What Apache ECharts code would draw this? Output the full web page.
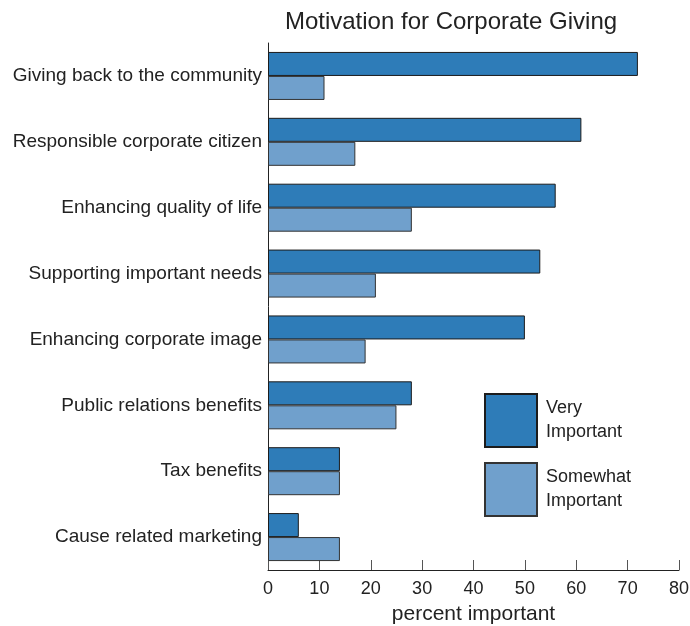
<!DOCTYPE html>
<html>
<head>
<meta charset="utf-8">
<script src="https://cdn.jsdelivr.net/npm/echarts@6/dist/echarts.min.js"></script>
<style>
  html, body { margin: 0; padding: 0; background: #fff; }
  #chart { width: 690px; height: 626px; }
</style>
</head>
<body>
<div id="chart"></div>
<script>
// Survey reasons, top to bottom
const categories = [
  'Giving back to the community',
  'Responsible corporate citizen',
  'Enhancing quality of life',
  'Supporting important needs',
  'Enhancing corporate image',
  'Public relations benefits',
  'Tax benefits',
  'Cause related marketing'
];
const veryImportant = [72, 61, 56, 53, 50, 28, 14, 6];
const somewhatImportant = [11, 17, 28, 21, 19, 25, 14, 14];
const xTicks = [0, 10, 20, 30, 40, 50, 60, 70, 80];

const textColor = '#222';
const font = 'Liberation Sans, Arial, sans-serif';

const chart = echarts.init(document.getElementById('chart'));
chart.setOption({
  animation: false,
  title: {
    text: 'Motivation for Corporate Giving',
    left: 451,
    textAlign: 'center',
    top: 10,
    padding: 0,
    textStyle: { fontFamily: font, fontSize: 24, fontWeight: 'normal', color: textColor }
  },
  legend: {
    orient: 'vertical',
    left: 484,
    top: 393,
    padding: 0,
    itemWidth: 52,
    itemHeight: 53,
    itemGap: 14,
    icon: 'rect',
    textStyle: { fontFamily: font, fontSize: 18, color: textColor, lineHeight: 24, padding: [2, 0, 0, 4] },
    formatter: function (name) { return name.replace(' ', '\n'); },
    data: ['Very Important', 'Somewhat Important']
  },
  grid: { left: 268, right: 11, top: 43, bottom: 56, containLabel: false, outerBoundsMode: 'none' },
  xAxis: {
    type: 'value',
    min: 0,
    max: 80,
    interval: 10,
    name: 'percent important',
    nameLocation: 'middle',
    nameGap: 34,
    nameTextStyle: { fontFamily: font, fontSize: 21, color: textColor },
    axisLine: { show: true, lineStyle: { color: '#222', width: 1 } },
    axisTick: { show: true, inside: true, length: 10, lineStyle: { color: '#555' } },
    axisLabel: {
      fontFamily: font, fontSize: 18, color: textColor, margin: 10,
      formatter: function (v) { return xTicks.indexOf(v) >= 0 ? String(v) : ''; }
    },
    splitLine: { show: false }
  },
  yAxis: {
    type: 'category',
    data: categories,
    inverse: true,
    axisLine: { show: true, lineStyle: { color: '#222', width: 1 } },
    axisTick: { show: false },
    axisLabel: { fontFamily: font, fontSize: 19, color: textColor, margin: 6 }
  },
  series: [
    {
      name: 'Very Important',
      type: 'bar',
      data: veryImportant,
      barWidth: 24,
      barGap: '0%',
      itemStyle: { color: '#2e7cb8', borderColor: '#1c1c1c', borderWidth: 1 }
    },
    {
      name: 'Somewhat Important',
      type: 'bar',
      data: somewhatImportant,
      barWidth: 24,
      barGap: '0%',
      itemStyle: { color: '#70a0cc', borderColor: '#333', borderWidth: 1 }
    }
  ]
});
</script>
</body>
</html>
